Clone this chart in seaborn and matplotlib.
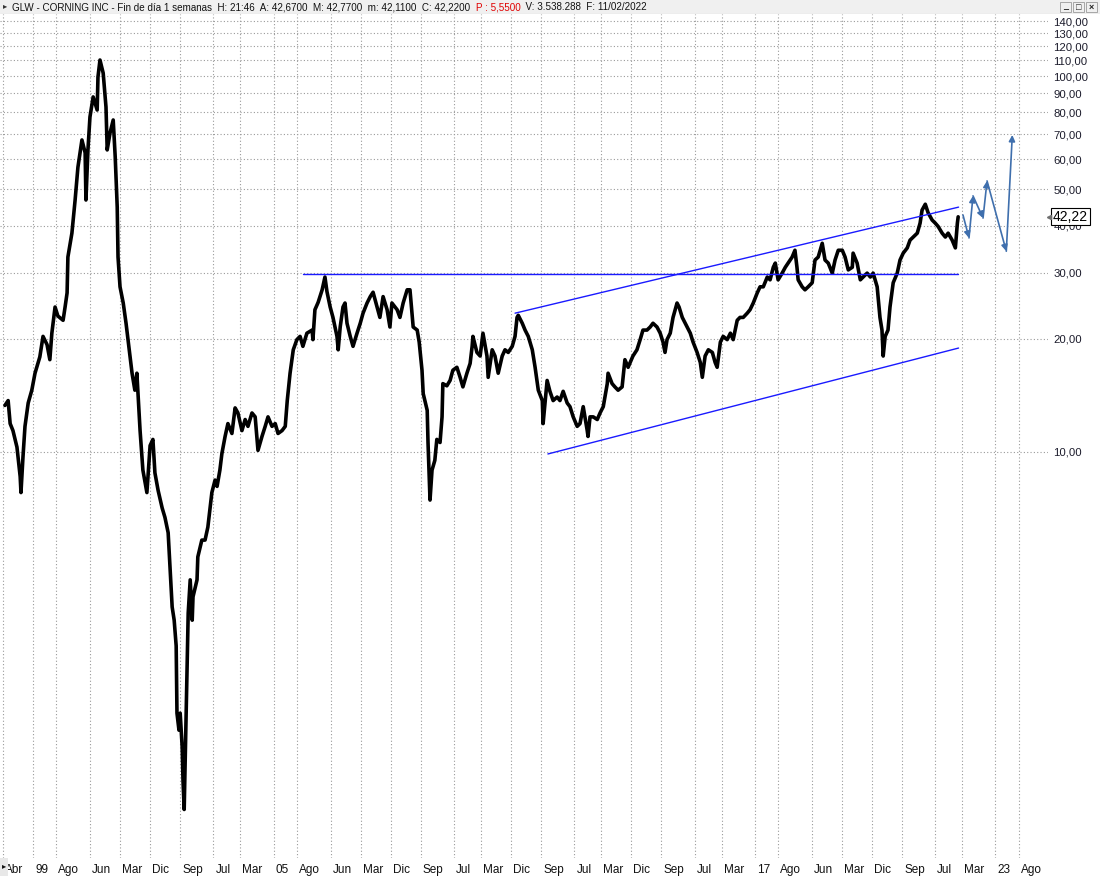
import matplotlib
matplotlib.use('Agg')
import matplotlib.pyplot as plt
import matplotlib.ticker as mticker
import matplotlib.transforms as mtrans
from matplotlib.patches import Rectangle
import seaborn as sns
import pandas as pd

# weekly closes of GLW (fractional year, price)
years = [1998.30, 1998.38, 1998.43, 1998.50, 1998.60, 1998.68, 1998.70, 1998.75, 1998.80, 1998.88,
         1998.97, 1999.05, 1999.17, 1999.25, 1999.35, 1999.42, 1999.47, 1999.55, 1999.62, 1999.75,
         1999.80, 1999.85, 1999.87, 1999.97, 2000.05, 2000.12, 2000.22, 2000.30, 2000.32, 2000.37,
         2000.42, 2000.50, 2000.60, 2000.62, 2000.67, 2000.75, 2000.82, 2000.85, 2000.92, 2001.00,
         2001.05, 2001.10, 2001.12, 2001.17, 2001.25, 2001.32, 2001.37, 2001.47, 2001.54, 2001.59,
         2001.67, 2001.74, 2001.84, 2001.92, 2001.99, 2002.04, 2002.12, 2002.22, 2002.29, 2002.37,
         2002.42, 2002.47, 2002.52, 2002.57, 2002.59, 2002.64, 2002.67, 2002.72, 2002.74, 2002.77,
         2002.82, 2002.84, 2002.87, 2002.92, 2002.97, 2002.99, 2003.09, 2003.11, 2003.21, 2003.29,
         2003.36, 2003.46, 2003.54, 2003.59, 2003.66, 2003.71, 2003.79, 2003.86, 2003.96, 2004.04,
         2004.11, 2004.21, 2004.29, 2004.36, 2004.46, 2004.54, 2004.61, 2004.71, 2004.79, 2004.86,
         2004.96, 2005.04, 2005.11, 2005.21, 2005.29, 2005.34, 2005.41, 2005.49, 2005.58, 2005.66,
         2005.73, 2005.83, 2005.96, 2005.98, 2006.03, 2006.11, 2006.21, 2006.28, 2006.33, 2006.41,
         2006.48, 2006.58, 2006.61, 2006.66, 2006.73, 2006.78, 2006.83, 2006.91, 2006.98, 2007.08,
         2007.16, 2007.23, 2007.33, 2007.41, 2007.48, 2007.58, 2007.65, 2007.73, 2007.83, 2007.90,
         2007.95, 2008.08, 2008.15, 2008.23, 2008.33, 2008.40, 2008.48, 2008.58, 2008.63, 2008.70,
         2008.73, 2008.83, 2008.85, 2008.90, 2008.95, 2009.02, 2009.07, 2009.15, 2009.20, 2009.22,
         2009.32, 2009.40, 2009.47, 2009.57, 2009.65, 2009.72, 2009.82, 2009.90, 2009.95, 2009.97,
         2010.07, 2010.15, 2010.22, 2010.32, 2010.35, 2010.45, 2010.52, 2010.60, 2010.70, 2010.77,
         2010.85, 2010.95, 2011.02, 2011.07, 2011.10, 2011.20, 2011.27, 2011.35, 2011.45, 2011.52,
         2011.60, 2011.70, 2011.72, 2011.82, 2011.89, 2011.97, 2012.07, 2012.14, 2012.22, 2012.32,
         2012.39, 2012.47, 2012.57, 2012.64, 2012.72, 2012.82, 2012.84, 2012.89, 2012.97, 2013.07,
         2013.14, 2013.22, 2013.32, 2013.34, 2013.44, 2013.51, 2013.59, 2013.69, 2013.76, 2013.84,
         2013.96, 2014.06, 2014.14, 2014.21, 2014.31, 2014.39, 2014.46, 2014.56, 2014.64, 2014.71,
         2014.76, 2014.81, 2014.89, 2014.96, 2015.06, 2015.11, 2015.19, 2015.31, 2015.39, 2015.46,
         2015.56, 2015.64, 2015.69, 2015.76, 2015.84, 2015.94, 2016.01, 2016.06, 2016.14, 2016.21,
         2016.31, 2016.39, 2016.46, 2016.56, 2016.63, 2016.71, 2016.81, 2016.88, 2016.96, 2017.06,
         2017.13, 2017.21, 2017.31, 2017.38, 2017.46, 2017.51, 2017.58, 2017.68, 2017.76, 2017.83,
         2017.93, 2018.00, 2018.05, 2018.08, 2018.18, 2018.25, 2018.33, 2018.43, 2018.50, 2018.58,
         2018.68, 2018.75, 2018.83, 2018.93, 2019.00, 2019.08, 2019.18, 2019.25, 2019.33, 2019.43,
         2019.45, 2019.55, 2019.63, 2019.70, 2019.80, 2019.88, 2019.95, 2020.05, 2020.08, 2020.12,
         2020.17, 2020.20, 2020.25, 2020.32, 2020.37, 2020.45, 2020.55, 2020.62, 2020.70, 2020.80,
         2020.87, 2020.95, 2021.05, 2021.12, 2021.17, 2021.25, 2021.32, 2021.42, 2021.50, 2021.57,
         2021.67, 2021.75, 2021.82, 2021.92, 2022.00, 2022.05, 2022.07]
closes = [13.3, 13.7, 11.9, 11.4, 10.3, 8.6, 7.8, 9.7, 11.7, 13.5,
          14.6, 16.2, 17.9, 20.3, 19.3, 17.6, 20.7, 24.3, 23.0, 22.4,
          24.3, 26.5, 33.0, 38.2, 46.8, 57.2, 67.6, 62.5, 46.8, 63.6,
          77.8, 88.0, 81.2, 99.4, 110.3, 101.8, 82.7, 63.6, 70.5, 76.4,
          60.9, 44.8, 33.0, 27.5, 24.9, 22.0, 19.9, 16.2, 14.6, 16.2,
          11.4, 8.95, 7.8, 10.4, 10.8, 8.8, 7.9, 7.1, 6.7, 6.1,
          4.86, 3.87, 3.57, 3.05, 2.02, 1.82, 2.02, 1.64, 1.34, 1.12,
          2.02, 2.48, 3.73, 4.57, 3.57, 4.12, 4.57, 5.26, 5.83, 5.83,
          6.31, 7.8, 8.42, 8.1, 8.95, 9.9, 11.0, 11.9, 11.2, 13.1,
          12.7, 11.4, 12.2, 11.7, 12.7, 12.4, 10.1, 11.0, 11.7, 12.4,
          11.7, 11.9, 11.2, 11.4, 11.7, 13.7, 16.2, 18.7, 19.9, 20.3,
          19.1, 20.7, 21.1, 19.9, 23.9, 25.0, 27.0, 29.2, 26.7, 24.3,
          22.8, 20.3, 18.7, 21.5, 24.3, 24.9, 22.0, 20.3, 19.1, 20.7,
          22.0, 23.4, 24.9, 25.9, 26.6, 24.3, 22.8, 25.9, 23.9, 21.5,
          24.9, 23.9, 22.8, 24.9, 27.0, 27.0, 21.5, 21.1, 19.6, 16.5,
          14.3, 12.9, 10.6, 7.45, 8.95, 9.5, 10.8, 10.6, 12.4, 15.2,
          15.0, 15.5, 16.5, 16.8, 15.8, 14.9, 16.2, 17.2, 19.1, 20.3,
          18.4, 18.0, 20.7, 18.0, 15.8, 18.7, 18.0, 16.2, 18.0, 18.7,
          18.4, 19.1, 20.3, 22.8, 23.1, 22.0, 21.1, 20.3, 18.7, 16.8,
          14.6, 13.7, 11.9, 15.5, 14.5, 13.7, 14.0, 13.7, 14.5, 13.5,
          13.2, 12.4, 11.7, 11.9, 13.2, 11.4, 11.0, 12.4, 12.4, 12.2,
          12.7, 13.2, 15.2, 16.2, 15.2, 14.9, 14.6, 14.9, 17.6, 16.8,
          18.0, 18.7, 19.9, 21.1, 21.1, 21.5, 22.0, 21.5, 20.7, 19.6,
          18.4, 19.9, 20.7, 22.8, 24.9, 24.3, 22.8, 21.5, 20.7, 19.6,
          18.4, 17.3, 15.8, 18.0, 18.7, 18.4, 17.3, 16.8, 19.6, 20.3,
          19.9, 20.7, 19.9, 22.4, 22.8, 22.8, 23.4, 23.9, 24.9, 26.5,
          27.5, 27.5, 29.2, 28.7, 31.0, 31.8, 28.7, 29.9, 31.0, 31.8,
          33.0, 34.4, 31.0, 28.7, 27.5, 27.0, 27.5, 28.2, 32.4, 33.0,
          35.9, 32.4, 31.8, 29.9, 32.4, 34.4, 34.4, 33.0, 30.5, 31.0,
          33.8, 31.8, 28.7, 29.2, 29.9, 29.2, 29.9, 27.5, 25.4, 22.8,
          21.1, 18.0, 20.3, 21.1, 24.3, 28.2, 29.9, 32.4, 33.8, 34.9,
          36.6, 37.3, 38.2, 40.6, 44.0, 45.6, 43.3, 41.4, 40.6, 39.8,
          38.2, 37.3, 38.2, 36.6, 34.9, 40.6, 42.22]

# hand-drawn trend lines
flat_t = [2005.73, 2022.07]
flat_p = [29.8, 29.8]
upper_t = [2011.02, 2022.08]
upper_p = [23.4, 44.8]
lower_t = [2011.84, 2022.08]
lower_p = [9.88, 18.9]

# projected zig-zag path (arrows)
proj_t = [2022.19, 2022.34, 2022.44, 2022.69, 2022.79, 2023.27, 2023.42]
proj_p = [42.7, 37.1, 48.0, 41.9, 52.6, 34.2, 69.7]

tick_pos = [1998.25, 1999.0, 1999.58, 2000.42, 2001.17, 2001.92, 2002.67, 2003.5, 2004.17,
            2005.0, 2005.58, 2006.42, 2007.17, 2007.92, 2008.67, 2009.5, 2010.17, 2010.92,
            2011.67, 2012.5, 2013.17, 2013.92, 2014.67, 2015.5, 2016.17, 2017.0, 2017.58,
            2018.42, 2019.17, 2019.92, 2020.67, 2021.5, 2022.17, 2023.0, 2023.58]
tick_lab = ['Abr', '99', 'Ago', 'Jun', 'Mar', 'Dic', 'Sep', 'Jul', 'Mar', '05', 'Ago', 'Jun',
            'Mar', 'Dic', 'Sep', 'Jul', 'Mar', 'Dic', 'Sep', 'Jul', 'Mar', 'Dic', 'Sep', 'Jul',
            'Mar', '17', 'Ago', 'Jun', 'Mar', 'Dic', 'Sep', 'Jul', 'Mar', '23', 'Ago']
price_ticks = [10, 20, 30, 40, 50, 60, 70, 80, 90, 100, 110, 120, 130, 140]
last_price = 42.22

sns.set_style('white')
plt.rcParams['font.family'] = ['Liberation Sans', 'DejaVu Sans']

W, H = 1100, 876
fig = plt.figure(figsize=(W / 100, H / 100), dpi=100)
fig.patch.set_facecolor('white')
ax = fig.add_axes([0, 1 - 858 / H, 1048 / W, (858 - 14) / H])

df = pd.DataFrame({'t': years, 'close': closes})
sns.lineplot(data=df, x='t', y='close', ax=ax, color='black', lw=2.6,
             estimator=None, sort=False, zorder=3)

ax.plot(flat_t, flat_p, color='#1a1aff', lw=1.0, zorder=4)
ax.plot(upper_t, upper_p, color='#1a1aff', lw=1.0, zorder=4)
ax.plot(lower_t, lower_p, color='#1a1aff', lw=1.0, zorder=4)
for i in range(len(proj_t) - 1):
    ax.annotate('', xy=(proj_t[i + 1], proj_p[i + 1]), xytext=(proj_t[i], proj_p[i]),
                arrowprops=dict(arrowstyle='-|>', color='#3f6fad', lw=1.2,
                                mutation_scale=9, shrinkA=0, shrinkB=0), zorder=5)

ax.set_yscale('log')
ax.set_xlim(1998.177, 2024.31)
ax.set_ylim(0.832, 146.2)
ax.set_xlabel('')
ax.set_ylabel('')
for s in ax.spines.values():
    s.set_visible(False)

ax.set_yticks(price_ticks)
ax.yaxis.set_major_formatter(mticker.FuncFormatter(lambda v, _: f'{v:.2f}'.replace('.', ',')))
ax.yaxis.set_minor_locator(mticker.NullLocator())
ax.yaxis.tick_right()
ax.tick_params(axis='y', length=0, pad=4, labelsize=8.2, labelcolor='#1c1c2c')
ax.set_xticks(tick_pos)
ax.set_xticklabels(tick_lab, ha='left')
ax.tick_params(axis='x', length=0, pad=4, labelsize=8.5, labelcolor='#111111')
shift = mtrans.ScaledTranslation(2 / 100, 0, fig.dpi_scale_trans)
for lab in ax.get_xticklabels():
    lab.set_transform(lab.get_transform() + shift)
ax.grid(True, color='#9a9a9a', linestyle=(0, (1, 2)), lw=0.8)

# last price box
ytr = mtrans.blended_transform_factory(ax.transAxes, ax.transData)
ax.text(1 + 5 / 1048, last_price, '42,22', transform=ytr, fontsize=10, color='black',
        va='center', ha='left', clip_on=False, zorder=10,
        bbox=dict(boxstyle='square,pad=0.12', fc='white', ec='black', lw=0.8))
ax.plot([1 + 1 / 1048], [last_price], transform=ytr, marker='<', ms=3, color='#707070',
        clip_on=False, zorder=10)

# title strip
tax = fig.add_axes([0, 1 - 14 / H, 1, 14 / H])
tax.set_facecolor('#f0f0f0')
tax.set_xlim(0, W)
tax.set_ylim(14, 0)
tax.set_xticks([])
tax.set_yticks([])
for s in tax.spines.values():
    s.set_visible(False)
tax.axhline(13.5, color='#c0c0c0', lw=0.8)
tax.text(3, 7, '▸', fontsize=6, va='center', ha='left', color='#333333')
t1 = tax.text(12, 7.5, 'GLW - CORNING INC - Fin de día 1 semanas  H: 21:46  A: 42,6700  '
              'M: 42,7700  m: 42,1100  C: 42,2200  ', fontsize=7.1, va='center', ha='left',
              color='#111111')
t2 = tax.annotate('P : 5,5500', xy=(1, 0.5), xycoords=t1, va='center', ha='left',
                  fontsize=7.1, color='#e00000')
tax.annotate('  V: 3.538.288  F: 11/02/2022', xy=(1, 0.5), xycoords=t2, va='center',
             ha='left', fontsize=7.1, color='#111111')
for bx, sym in zip([1060, 1073, 1086], ['_', '□', '×']):
    tax.add_patch(Rectangle((bx, 2), 11, 10, fc='#f0f0f0', ec='#9a9a9a', lw=0.6))
    tax.text(bx + 5.5, 7, sym, fontsize=6.5, ha='center', va='center', color='#222222',
             fontweight='bold')

# bottom-left scroll marker
bax = fig.add_axes([0, 1 - 876 / H, 8 / W, 18 / H])
bax.set_facecolor('#e8e8e8')
bax.set_xticks([])
bax.set_yticks([])
for s in bax.spines.values():
    s.set_visible(False)
bax.text(0.5, 0.5, '▸', fontsize=6, ha='center', va='center', color='#111111')

fig.savefig('out.png', dpi=100, facecolor='white')
